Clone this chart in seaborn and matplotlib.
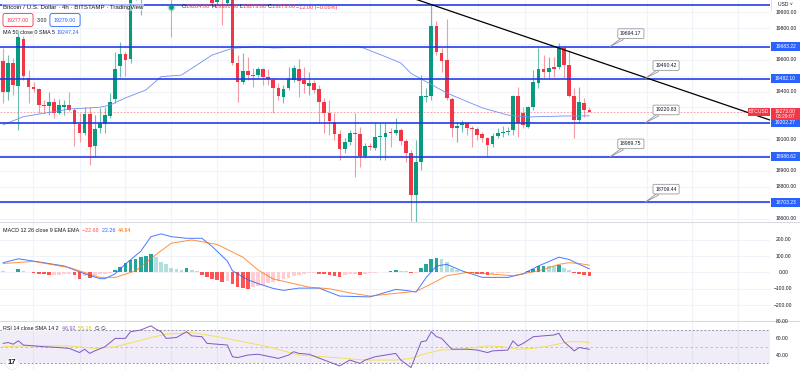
import matplotlib
matplotlib.use("Agg")
import matplotlib.pyplot as plt
from matplotlib.patches import Rectangle
import numpy as np
import seaborn as sns

sns.set_theme(style="white")
plt.rcParams['font.family'] = ['Liberation Sans', 'DejaVu Sans']

# ---------------- data ----------------
opens = [19593, 19397, 19580, 19435, 19731, 19486, 19429, 19416, 19315, 19309,
         19334, 19265, 19303, 19315, 19284, 19196, 19139, 19259, 19057, 19171,
         19196, 19246, 19353, 19561, 19637, 19605, 20008, 20180, 20260, 20330,
         20420, 20350, 20400, 20180, 20100, 20160, 20240, 20300, 20220, 20160,
         20200, 20040, 19965, 20050, 19960, 20060, 19580, 19460, 19530, 19505,
         19505, 19542, 19492, 19473, 19423, 19366, 19423, 19473, 19542, 19473,
         19435, 19454, 19416, 19334, 19265, 19208, 19133, 19038, 19082, 19139,
         19133, 18994, 19057, 19044, 19114, 19114, 19145, 19139, 19158, 19089,
         19013, 18748, 18956, 19366, 19372, 19813, 19643, 19599, 19353, 19171,
         19190, 19202, 19171, 19164, 19133, 19108, 19070, 19120, 19139, 19145,
         19158, 19372, 19265, 19177, 19303, 19454, 19542, 19523, 19555, 19555,
         19675, 19567, 19372, 19221, 19328, 19284]
highs = [19675, 19630, 19612, 19769, 19750, 19536, 19460, 19423, 19347, 19397,
         19360, 19353, 19347, 19397, 19297, 19265, 19303, 19303, 19252, 19297,
         19303, 19391, 19649, 19712, 19649, 20103, 20230, 20300, 20380, 20470,
         20450, 20440, 20420, 20200, 20200, 20280, 20330, 20320, 20250, 20240,
         20220, 20060, 20030, 20080, 20070, 20090, 19630, 19643, 19618, 19549,
         19555, 19549, 19542, 19486, 19454, 19441, 19555, 19567, 19605, 19555,
         19523, 19473, 19441, 19360, 19347, 19265, 19158, 19108, 19158, 19265,
         19177, 19076, 19076, 19202, 19202, 19202, 19171, 19234, 19171, 19101,
         19032, 19095, 19505, 19423, 19945, 19845, 19675, 19857, 19366, 19208,
         19221, 19208, 19183, 19177, 19145, 19114, 19139, 19171, 19183, 19177,
         19379, 19429, 19303, 19309, 19536, 19675, 19630, 19618, 19618, 19706,
         19690, 19662, 19423, 19429, 19360, 19300]
lows = [19328, 19347, 19379, 19158, 19473, 19328, 19397, 19265, 19265, 19252,
        19234, 19260, 19252, 19278, 19057, 19082, 19126, 18937, 18988, 19139,
        19139, 19234, 19328, 19492, 19498, 19580, 19975, 19882, 20200, 20290,
        20300, 20320, 20100, 19744, 20030, 20120, 20200, 20180, 20120, 20100,
        19990, 19940, 19950, 19820, 19945, 19570, 19334, 19448, 19473, 19429,
        19492, 19441, 19441, 19265, 19347, 19328, 19410, 19460, 19366, 19391,
        19379, 19391, 19202, 19139, 19126, 19095, 18969, 19013, 19063, 18862,
        18925, 18982, 19032, 19032, 18969, 18969, 19051, 19126, 19063, 18956,
        18585, 18578, 18906, 19334, 19347, 19630, 19523, 19347, 19114, 19082,
        19145, 19126, 19051, 19095, 19082, 18988, 19051, 19108, 19114, 19126,
        19126, 19114, 19171, 19171, 19284, 19423, 19486, 19486, 19492, 19542,
        19486, 19366, 19108, 19208, 19240, 19273]
closes = [19397, 19580, 19441, 19744, 19498, 19429, 19416, 19315, 19309, 19334,
          19265, 19315, 19315, 19284, 19196, 19139, 19259, 19051, 19164, 19202,
          19252, 19334, 19542, 19637, 19599, 20008, 20180, 20260, 20330, 20420,
          20350, 20400, 20180, 20100, 20160, 20240, 20300, 20220, 20160, 20200,
          20040, 19958, 20000, 19990, 20050, 19580, 19460, 19530, 19505, 19498,
          19542, 19492, 19479, 19423, 19372, 19416, 19479, 19549, 19467, 19448,
          19454, 19410, 19334, 19265, 19215, 19133, 19038, 19082, 19139, 19133,
          18994, 19057, 19051, 19114, 19120, 19139, 19139, 19158, 19089, 19013,
          18748, 18956, 19372, 19372, 19813, 19649, 19593, 19360, 19171, 19183,
          19202, 19171, 19164, 19126, 19108, 19063, 19120, 19139, 19145, 19152,
          19372, 19202, 19190, 19303, 19460, 19542, 19523, 19549, 19542, 19675,
          19567, 19372, 19221, 19334, 19284, 19273]

ma50_idx = [0, 4, 8, 13, 19, 21, 24, 28, 31, 35, 39, 41, 45, 50, 53, 60, 70, 75,
            78, 80, 87, 94, 99, 103, 110, 115]
ma50_val = [19190, 19242, 19263, 19290, 19301, 19315, 19360, 19410, 19494, 19504,
            19588, 19630, 19673, 19683, 19675, 19681, 19683, 19620, 19580, 19515,
            19391, 19297, 19252, 19240, 19246, 19247]

levels = [19945.60, 19683.22, 19482.10, 19202.27, 18988.62, 18703.23]
level_labels = ["", "19683.22", "19482.10", "19202.27", "18988.62", "18703.23"]
callout_text = ["19694.17", "19490.42", "19220.83", "18989.75", "18709.44"]
callout_x = [119.0, 125.9, 125.9, 119.0, 125.9]
callout_y = [19683.22, 19482.10, 19202.27, 18988.62, 18703.23]
trend_x = [78, 151]
trend_y = [20014, 19214]
last_price = 19273.00
price_ticks = [18600, 18700, 18800, 18900, 19000, 19100, 19200, 19300, 19400,
               19500, 19600, 19700, 19800, 19900]

hist = [8, 5, 4, 20, 8, 3, -3, -8, -12, -15, -15, -13, -12, -12, -14, -38, -20, -35,
        -15, -12, -8, -4, 16, 36, 60, 74, 84, 94, 104, 114, 94, 64, 50, 30, 20, 18,
        26, 15, 10, -14, -26, -40, -46, -56, -50, -70, -90, -96, -100, -88, -85,
        -74, -66, -60, -50, -40, -34, -20, -14, -10, -6, -5, -10, -12, -16, -20,
        -30, -18, -12, -10, -14, -8, -5, -3, 2, 6, 10, 14, 12, 8, -4, -2, 26, 50,
        80, 90, 80, 65, 30, 15, 5, -3, -5, -8, -10, -14, -10, -6, -4, -2, 4, 6, 5,
        12, 22, 40, 42, 40, 38, 45, 30, 15, -5, -10, -18, -22.68]
macd_idx = [0, 3, 6, 12, 16, 19, 20, 22, 24, 27, 29, 31, 33, 36, 39, 41, 44, 45, 48,
            50, 53, 55, 58, 62, 66, 72, 77, 79, 81, 83, 85, 87, 90, 94, 99, 102, 105,
            109, 111, 113, 115]
macd_val = [60, 84, 70, 40, -8, -38, -38, -8, 52, 130, 220, 237, 220, 210, 210, 160,
            70, 10, -45, -68, -98, -110, -96, -96, -145, -150, -104, -110, -120, -30,
            40, 50, 10, -30, -30, -8, 40, 94, 80, 50, 22.26]
sig_idx = [0, 6, 13, 19, 22, 26, 30, 33, 37, 42, 47, 50, 53, 60, 64, 68, 72, 77, 81,
           84, 87, 91, 95, 100, 105, 109, 111, 113, 115]
sig_val = [55, 68, 30, -30, -30, 10, 110, 180, 200, 172, 95, 15, -40, -90, -100, -125,
           -145, -128, -116, -70, -20, 0, -8, -20, 10, 50, 60, 55, 44.94]
macd_ticks = [-200, -100, 0, 100, 200]

rsi_idx = [0, 1, 2, 3, 4, 6, 8, 11, 13, 15, 16, 17, 18, 20, 22, 24, 25, 27, 29, 30,
           31, 32, 34, 36, 37, 39, 40, 42, 44, 45, 46, 48, 50, 54, 56, 57, 58, 60,
           63, 66, 68, 70, 71, 73, 75, 77, 78, 80, 82, 83, 84, 85, 86, 88, 91, 93,
           95, 96, 99, 100, 101, 102, 104, 106, 108, 109, 110, 112, 113, 115]
rsi_val = [54, 55, 53, 57, 52, 51, 50, 49, 48, 43, 47, 42, 45, 50, 60, 60, 68, 70, 75,
           71, 68, 60, 61, 68, 63, 62, 54, 53, 52, 38, 37, 40, 41, 36, 40, 44, 42, 41,
           34, 27, 34, 30, 34, 38, 40, 42, 34, 25, 56, 57, 68, 62, 60, 47, 47, 46, 43,
           45, 46, 57, 51, 54, 62, 63, 64, 66, 56, 45, 49, 46.92]
rsima_idx = [0, 4, 13, 18, 22, 26, 29, 32, 37, 42, 47, 52, 58, 65, 71, 77, 80, 83,
             86, 90, 95, 98, 101, 104, 108, 111, 113, 115]
rsima_val = [50, 51, 51, 48, 50, 56, 61, 65, 67, 62, 56, 50, 40, 37, 34, 34, 36, 42,
             46, 47, 51, 50, 47, 48, 52, 56, 56, 55.18]
rsi_ticks = [40, 60, 80]

vgrid_idx = [5.9, 15.1, 23.9, 32.9, 42.0, 51.0, 60.2, 72.0, 84.1, 93.1, 102.3,
             114.5, 126.3, 135.1, 144.1]

# ---------------- colours ----------------
UP, DN = '#089981', '#F23645'
UPW, DNW = '#6cbfb1', '#f59aa3'
LVL = '#1a35e6'
GRID = '#f0f3fa'
TXT = '#131722'

W, H = 800, 370
fig = plt.figure(figsize=(W / 100, H / 100), dpi=100)
fig.patch.set_facecolor('white')
MAIN_B, MACD_B, PLOT_R = 221.7, 321.0, 770


def rect(x0, y0, x1, y1):
    return [x0 / W, 1 - y1 / H, (x1 - x0) / W, (y1 - y0) / H]


ax = fig.add_axes(rect(0, 0, PLOT_R, MAIN_B))
axm = fig.add_axes(rect(0, MAIN_B, PLOT_R, MACD_B))
axr = fig.add_axes(rect(0, MACD_B, PLOT_R, H))

for a in (ax, axm, axr):
    a.set_xlim(-0.59, 150.4)
    a.set_facecolor('white')
    for s in a.spines.values():
        s.set_visible(False)
    a.set_xticks([])
    a.set_yticks([])
    for g in vgrid_idx:
        a.axvline(g, color=GRID, lw=0.8, zorder=0)

ax.set_ylim(18580, 19977)
axm.set_ylim(-298, 312)
axr.set_ylim(22.1, 80.8)

# ---------------- main price pane ----------------
for p in price_ticks:
    ax.axhline(p, color=GRID, lw=0.8, zorder=0)

n = len(opens)
idx = np.arange(n)
o = np.array(opens, float)
c = np.array(closes, float)
up = c >= o
body_col = np.where(up, UP, DN)
wick_col = np.where(up, UPW, DNW)
ax.vlines(idx, lows, highs, colors=wick_col, lw=0.8, zorder=2)
ax.bar(idx, np.maximum(np.abs(c - o), 5), bottom=np.minimum(o, c), width=0.74,
       color=body_col, linewidth=0, zorder=3)

sns.lineplot(x=ma50_idx, y=ma50_val, ax=ax, color='#6f8ef7', linewidth=0.6,
             estimator=None, sort=False, zorder=3)

ax.axhline(last_price, color=DN, lw=0.6, ls=(0, (2, 2)), alpha=0.55, zorder=2)
for lv in levels:
    ax.axhline(lv, color=LVL, lw=1.15, zorder=4)
ax.plot(trend_x, trend_y, color='black', lw=0.9, zorder=4)

for t, cx, cy in zip(callout_text, callout_x, callout_y):
    ax.annotate(t, xy=(cx, cy), xytext=(21, 13), textcoords='offset pixels',
                fontsize=3.7, color=TXT, ha='center', va='center', zorder=6,
                bbox=dict(boxstyle='round,pad=0.45,rounding_size=0.25', fc='white',
                          ec='#9598a1', lw=0.6),
                arrowprops=dict(arrowstyle='wedge,tail_width=0.45,shrink_factor=0.5',
                                fc='white', ec='#9598a1', lw=0.6, shrinkA=0, shrinkB=0))

# ---------------- MACD pane ----------------
for v in macd_ticks:
    axm.axhline(v, color=GRID, lw=0.8, zorder=0)
hcols = []
prev = hist[0] + 1
for h in hist:
    if h >= 0:
        hcols.append('#26A69A' if h > prev else '#B2DFDB')
    else:
        hcols.append('#FF5252' if h < prev else '#FFCDD2')
    prev = h
axm.bar(idx, hist, width=0.74, color=hcols, linewidth=0, zorder=2)
sns.lineplot(x=macd_idx, y=macd_val, ax=axm, color='#2962FF', linewidth=0.7,
             estimator=None, sort=False, alpha=0.85, zorder=3)
sns.lineplot(x=sig_idx, y=sig_val, ax=axm, color='#FF6D00', linewidth=0.7,
             estimator=None, sort=False, alpha=0.75, zorder=3)

# ---------------- RSI pane ----------------
axr.axhspan(30, 70, color='#7E57C2', alpha=0.1, lw=0, zorder=0)
axr.axhline(70, color='#9598a1', lw=0.7, ls=(0, (2, 2)), zorder=1)
axr.axhline(50, color='#9598a1', lw=0.6, ls=(0, (3, 3)), alpha=0.6, zorder=1)
axr.axhline(30, color='#9598a1', lw=0.7, ls=(0, (2, 2)), zorder=1)
sns.lineplot(x=rsima_idx, y=rsima_val, ax=axr, color='#f2e05a', linewidth=0.7,
             estimator=None, sort=False, zorder=2)
sns.lineplot(x=rsi_idx, y=rsi_val, ax=axr, color='#7E57C2', linewidth=0.7,
             estimator=None, sort=False, zorder=3)

for a in (ax, axm, axr):
    a.set_xlabel('')
    a.set_ylabel('')
    a.set_xticks([])
    a.set_yticks([])

# ---------------- overlay (text, scale labels) ----------------
ov = fig.add_axes([0, 0, 1, 1])
ov.set_xlim(0, W)
ov.set_ylim(H, 0)
ov.axis('off')
ov.patch.set_alpha(0)


def py(a, v):
    return H - a.transData.transform((0, v))[1]


ov.plot([0, W], [MAIN_B, MAIN_B], color='#d9dbe2', lw=0.8)
ov.plot([0, W], [MACD_B, MACD_B], color='#d9dbe2', lw=0.8)

FS = 3.6
box_ys = [py(ax, lv) for lv, lab in zip(levels, level_labels) if lab]
yl = py(ax, last_price)
for p in price_ticks:
    y = py(ax, p)
    # price-scale labels hidden behind the coloured level / price boxes are not shown
    if any(abs(y - b) < 8 for b in box_ys) or (yl - 10 < y < yl + 11):
        continue
    ov.text(786, y, f"{p:.2f}", fontsize=FS, color=TXT, ha='center',
            va='center', zorder=3)
for lv, lab in zip(levels, level_labels):
    if not lab:
        continue
    y = py(ax, lv)
    ov.add_patch(Rectangle((771, y - 4.5), 29, 9, fc='#2962FF', ec='none', zorder=5))
    ov.text(785.5, y, lab, fontsize=FS, color='white', ha='center', va='center',
            zorder=6)
ov.add_patch(Rectangle((771, yl - 4.2), 29, 12, fc=DN, ec='none', zorder=5))
ov.text(785.5, yl, f"{last_price:.2f}", fontsize=FS, color='white', ha='center',
        va='center', zorder=6)
ov.text(785.5, yl + 5.2, "03:29:07", fontsize=FS, color='white', ha='center',
        va='center', zorder=6)
ov.add_patch(Rectangle((748, yl - 4.2), 22, 8.4, fc=DN, ec='none', zorder=5))
ov.text(759, yl, "BTCUSD", fontsize=FS, color='white', ha='center', va='center',
        zorder=6)
ov.text(778, 5, "USD ˅", fontsize=FS, color=TXT, ha='left', va='center', zorder=6)
ov.plot([771, 771], [0, 10], color='#d9dbe2', lw=0.6)

for v in macd_ticks:
    ov.text(783.5, py(axm, v), f"{v:.2f}".replace('-', '−'), fontsize=FS,
            color=TXT, ha='center', va='center')
for v in rsi_ticks:
    ov.text(782, py(axr, v), f"{v:.2f}", fontsize=FS, color=TXT, ha='center',
            va='center')


def chain(x, y, parts, fs, gap=0.0, bg=None):
    t = ov.text(x, y, parts[0][0], color=parts[0][1], fontsize=fs, va='center',
                ha='left', zorder=7)
    if bg:
        t.set_bbox(dict(fc='white', ec='none', alpha=bg, pad=0.6))
    for s, col in parts[1:]:
        t = ov.annotate(s, xy=(1, 0.5), xycoords=t, xytext=(gap, 0),
                        textcoords='offset pixels', color=col, fontsize=fs,
                        va='center', ha='left', zorder=7)
    return t


ov.text(3, 7, "Bitcoin / U.S. Dollar · 4h · BITSTAMP · TradingView", fontsize=4.4,
        color=TXT, va='center', ha='left', zorder=7,
        bbox=dict(fc='white', ec='none', alpha=0.55, pad=0.8))
ov.plot([171], [7], 'o', ms=5, color=UP, alpha=0.18, zorder=7)
ov.plot([171], [7], 'o', ms=2.4, color=UP, zorder=7)
chain(182, 7, [("O", TXT), ("19284.00 ", DN), ("H", TXT), ("19300.00 ", DN),
               ("L", TXT), ("19273.00 ", DN), ("C", TXT), ("19273.00 ", DN),
               ("−12.00 (−0.06%)", DN)], 4.0)

ov.text(18, 20, "19277.00", fontsize=3.8, color=DN, ha='center', va='center', zorder=7,
        bbox=dict(boxstyle='round,pad=0.75,rounding_size=0.4', fc='white', ec=DN, lw=0.6))
ov.text(42, 20, "3.00", fontsize=3.8, color=TXT, ha='center', va='center', zorder=7)
ov.text(65, 20, "19279.00", fontsize=3.8, color='#2962FF', ha='center', va='center',
        zorder=7, bbox=dict(boxstyle='round,pad=0.75,rounding_size=0.4', fc='white',
                            ec='#2962FF', lw=0.6))
chain(3, 33, [("MA 50 close 0 SMA 5 ", TXT), ("19247.24", '#2962FF')], 3.9)

chain(3, 230, [("MACD 12 26 close 9 EMA EMA  ", TXT), ("−22.68  ", '#FF5252'),
               ("22.26  ", '#2962FF'), ("44.94", '#FF6D00')], 3.9)
chain(3, 328, [("RSI 14 close SMA 14 2  ", TXT), ("46.92  ", '#7E57C2'),
               ("55.18  ", '#e0c200'), ("∅ ∅", TXT)], 3.9, bg=0.85)

ov.text(12, 363, "17", fontsize=5.5, fontweight='bold', color=TXT, ha='center',
        va='center', zorder=7, bbox=dict(boxstyle='circle,pad=0.3', fc='white',
                                          ec='#e0e3eb', lw=0.4))

fig.savefig("out.png", dpi=100)
